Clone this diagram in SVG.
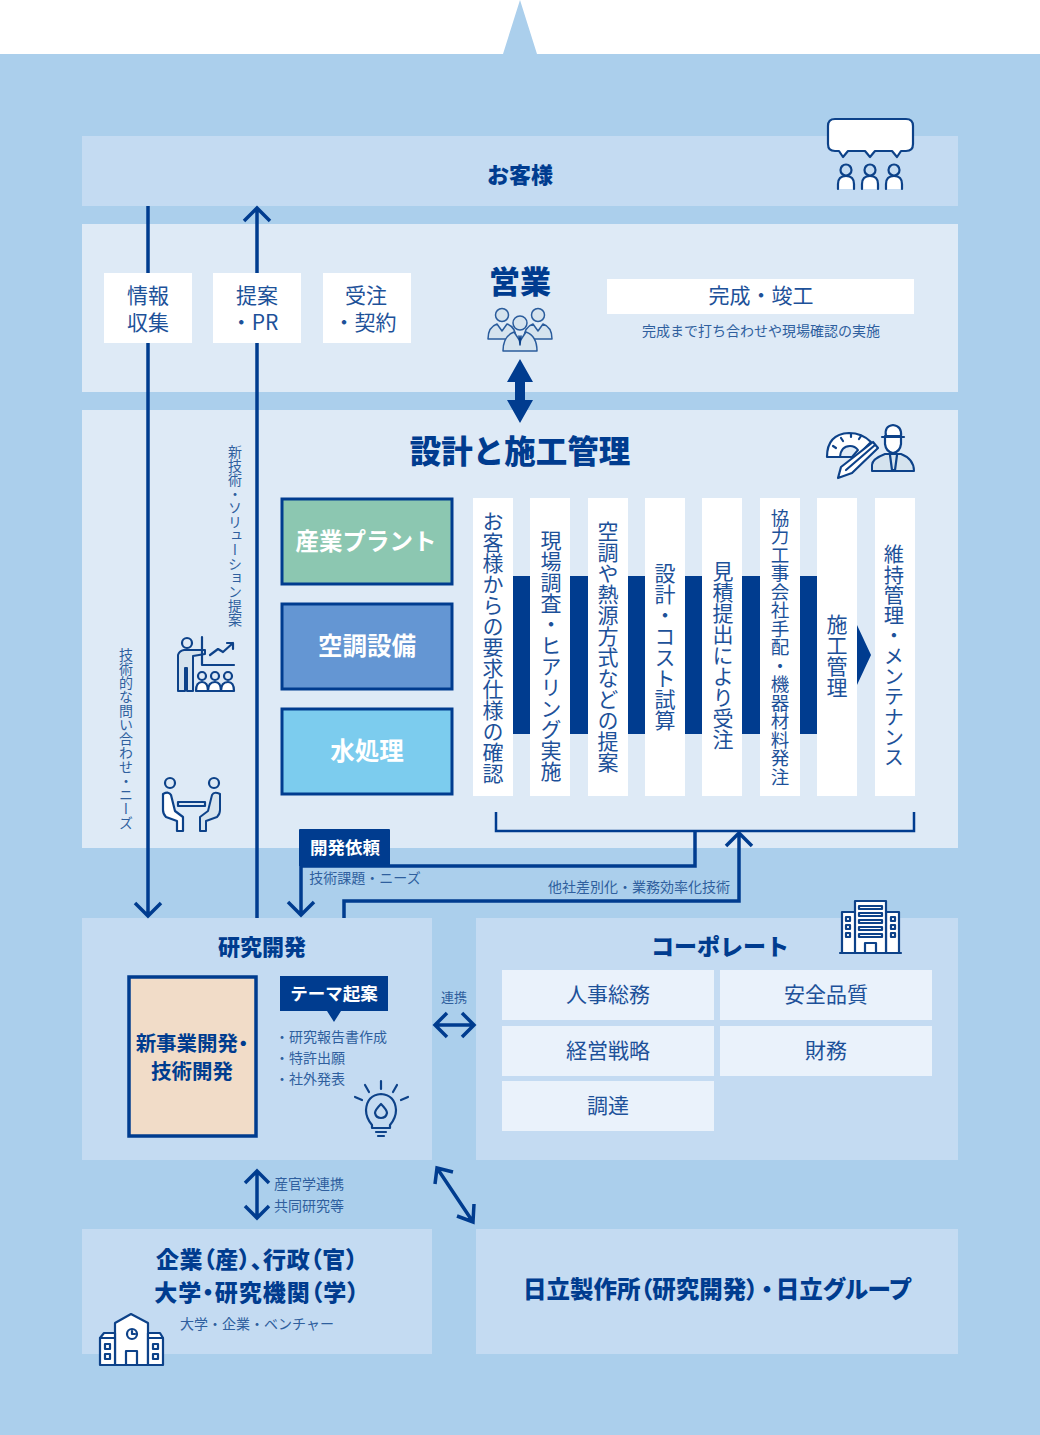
<svg xmlns="http://www.w3.org/2000/svg" width="1040" height="1435" viewBox="0 0 1040 1435">
<style>
text{font-family:"Noto Sans CJK JP","Noto Sans",sans-serif;fill:#003c8f;text-anchor:middle}
.b{font-weight:900}
.sb{font-weight:700}
.pt{font-feature-settings:"palt"}
.s{font-size:14px;fill:#2f5f9e}
.m{font-size:21px;fill:#1d5199}
.wt{fill:#fff}
.v{writing-mode:vertical-rl;font-size:21px;fill:#1d5199}
.vs{writing-mode:vertical-rl;font-size:14px;fill:#2f5f9e}
.p1{fill:#c4dbf2}.p2{fill:#deeaf6}.card{fill:#fff}.cell{fill:#eaf2fb}
.ln{fill:none;stroke:#003c8f;stroke-width:3.5}
.ln2{fill:none;stroke:#003c8f;stroke-width:2.5}
.ic{fill:none;stroke:#0d4289;stroke-width:2.2;stroke-linejoin:round;stroke-linecap:round}
.icw{fill:#fff;stroke:#0d4289;stroke-width:2.2;stroke-linejoin:round;stroke-linecap:round}
.icg{fill:#d5e3ee;stroke:#0d4289;stroke-width:2;stroke-linejoin:round;stroke-linecap:round}
.thin{fill:#d5e3ee;stroke:#2a5c9c;stroke-width:1.5;stroke-linejoin:round}
.bar{fill:#003c8f}
</style>
<rect width="1040" height="1435" fill="#fff"/>
<path d="M0 54H503L520 0L537 54H1040V1435H0Z" fill="#abcfec"/>

<!-- background bands sit under the connector lines -->
<g id="bands">
<rect class="p1" x="82" y="136" width="876" height="70"/>
<rect class="p2" x="82" y="224" width="876" height="168"/>
<rect class="p2" x="82" y="410" width="876" height="438"/>
<rect class="p1" x="82" y="918" width="350" height="242"/>
<rect class="p1" x="476" y="918" width="482" height="242"/>
<rect class="p1" x="82" y="1229" width="350" height="125"/>
<rect class="p1" x="476" y="1229" width="482" height="125"/>
</g>

<g id="connectors">
<path class="ln" d="M148 206V916M135 903L148 916L161 903"/>
<path class="ln" d="M257 918V208M244 221L257 208L270 221"/>
<path d="M520 359L533 382H525V400H533L520 423L507 400H515V382H507Z" fill="#003c8f"/>
<path class="ln2" d="M496 812V831H914V812"/>
<path class="ln" d="M695 831V866H301V915M288 902L301 915L314 902"/>
<path class="ln" d="M344 918V901H739V833M726 846L739 833L752 846"/>
<path class="ln" d="M435 1025H474M447 1013L435 1025L447 1037M462 1013L474 1025L462 1037"/>
<path class="ln" d="M257 1171V1218M245 1183L257 1171L269 1183M245 1206L257 1218L269 1206"/>
<path class="ln" d="M437 1168L473 1222M435 1184L437 1168L453 1172M457 1216L473 1222L474 1204"/>
</g>

<g id="customer">
<text class="b" x="520" y="183" font-size="22">お客様</text>
<path class="icw" d="M835 119H906Q913 119 913 126V144Q913 151 906 151H901L897 157L892 151H875L870 157L865 151H848L843 157L839 151H835Q828 151 828 144V126Q828 119 835 119Z"/>
<g id="customer-people">
<circle class="ic" cx="846" cy="170" r="5.500"/><path class="icw" d="M838 189V184Q838 176 846 176Q854 176 854 184V189"/>
<circle class="ic" cx="870" cy="170" r="5.500"/><path class="icw" d="M862 189V184Q862 176 870 176Q878 176 878 184V189"/>
<circle class="ic" cx="894" cy="170" r="5.500"/><path class="icw" d="M886 189V184Q886 176 894 176Q902 176 902 184V189"/>
</g>
</g>

<g id="sales">
<rect class="card" x="104" y="273" width="88" height="70"/>
<text class="m" x="148" y="303">情報</text><text class="m" x="148" y="330">収集</text>
<rect class="card" x="213" y="273" width="88" height="70"/>
<text class="m" x="257" y="303">提案</text><text class="m" x="254.500" y="330">・PR</text>
<rect class="card" x="323" y="273" width="88" height="70"/>
<text class="m" x="366" y="303">受注</text><text class="m" x="365" y="330">・契約</text>
<text class="b" x="520" y="293" font-size="31">営業</text>
<g id="sales-team">
<circle class="thin" cx="502" cy="315" r="6.500"/><path class="thin" d="M488 339Q488 327 497 324L502 331L507 324Q516 327 516 339Z"/>
<circle class="thin" cx="538" cy="315" r="6.500"/><path class="thin" d="M524 339Q524 327 533 324L538 331L543 324Q552 327 552 339Z"/>
<path class="thin" d="M503 351Q503 336 514 332L520 341L526 332Q537 336 537 351Z"/>
<circle class="thin" cx="520" cy="323" r="7"/>
<path class="ic" style="stroke-width:1.500" d="M519 336L520 345L521 336"/>
</g>
<rect class="card" x="607" y="279" width="307" height="35"/>
<text class="m" x="761" y="303">完成・竣工</text>
<text class="s" x="761" y="336">完成まで打ち合わせや現場確認の実施</text>
</g>

<g id="design">
<text class="b" x="520" y="463" font-size="31.500">設計と施工管理</text>
<g id="design-icon">
<path class="icw" d="M827 457Q827 434 849 433Q862 433 871 442L856 457Z"/>
<path class="icg" style="fill:#deeaf6" d="M840 457Q841 446 850 446Q855 446 858 450L852 457Z"/>
<path class="ic" d="M833 446L836 448M841 438L843 441M851 434V437M861 436L859 439"/>
<path class="icw" d="M838 478L841 467L873 442L878 448L852 473Z"/>
<path class="ic" d="M846 470L875 445"/>
<path class="icg" d="M872 471V465Q872 459 885 454H901Q914 459 914 471Z"/>
<path class="icw" d="M885 436H901V444Q900 452 893 453Q886 452 885 444Z"/>
<path class="icw" d="M886 436Q884 426 893 425Q902 426 901 436Z"/>
<path class="ic" d="M882 437H904"/>
<path class="ic" d="M890 455L892 470H895L897 455"/>
</g>
<g id="meeting-icon">
<circle class="ic" cx="187" cy="643" r="5"/>
<path class="icg" d="M178 691V655Q179 651 184 650L205 650V654L193 656V691H187V668H185V691Z"/>
<path class="ic" d="M202 637V665H234M210 655L218 649L223 652L233 643M227 643H233V649"/>
<circle class="ic" cx="202" cy="676" r="4"/><path class="icw" d="M196 691Q196 682 202 682Q208 682 208 691Z"/>
<circle class="ic" cx="215" cy="676" r="4"/><path class="icw" d="M208 691Q208 682 215 682Q221 682 221 691Z"/>
<circle class="ic" cx="228" cy="676" r="4"/><path class="icw" d="M221 691Q221 682 228 682Q234 682 234 691Z"/>
</g>
<g id="talk-icon">
<circle class="ic" cx="170" cy="783" r="5"/>
<circle class="ic" cx="214" cy="783" r="5"/>
<rect class="ic" x="178" y="802" width="27" height="4"/>
<path class="icw" d="M163 794Q169 791 171 795L175 811L183 817V831H177V821L166 817Q163 814 163 810Z"/>
<path class="icg" d="M220 794Q214 791 212 795L208 811L200 817V831H206V821L217 817Q220 814 220 810Z"/>
</g>
<g id="division-cards">
<rect x="282" y="499" width="170" height="85" fill="#8cc7b1" stroke="#003c8f" stroke-width="3"/>
<text class="sb wt" x="366" y="550" font-size="23.500">産業プラント</text>
<rect x="282" y="604" width="170" height="85" fill="#6496d3" stroke="#003c8f" stroke-width="3"/>
<text class="sb wt" x="367" y="655" font-size="24.500">空調設備</text>
<rect x="282" y="709" width="170" height="85" fill="#7cccee" stroke="#003c8f" stroke-width="3"/>
<text class="sb wt" x="367" y="760" font-size="24.500">水処理</text>
</g>
<g id="flow">
<rect class="bar" x="513" y="576" width="286" height="158"/>
<rect class="bar" x="799" y="576" width="18" height="158"/>
<path class="bar" d="M857 625L871 655L857 685Z"/>
<g class="card">
<rect x="473" y="498" width="40" height="298"/><rect x="530" y="498" width="40" height="298"/>
<rect x="588" y="498" width="40" height="298"/><rect x="645" y="498" width="40" height="298"/>
<rect x="702" y="498" width="40" height="298"/><rect x="760" y="498" width="40" height="298"/>
<rect x="817" y="498" width="40" height="298"/><rect x="875" y="498" width="40" height="298"/>
</g>
<text class="v" x="493" y="647">お客様からの要求仕様の確認</text>
<text class="v" x="551" y="656">現場調査・ヒアリング実施</text>
<text class="v" x="608" y="647">空調や熱源方式などの提案</text>
<text class="v" x="665" y="647">設計・コスト試算</text>
<text class="v" x="723" y="655">見積提出により受注</text>
<text class="v" x="780" y="647" style="font-size:18.500px">協力工事会社手配・機器材料発注</text>
<text class="v" x="837" y="656">施工管理</text>
<text class="v" x="894" y="656" style="font-size:20.300px">維持管理・メンテナンス</text>
</g>
<text class="vs" x="235" y="536">新技術・ソリューション提案</text>
<text class="vs" x="126" y="739">技術的な問い合わせ・ニーズ</text>
</g>

<g id="rnd">
<text class="b" x="262" y="955" font-size="22">研究開発</text>
<rect x="129" y="977" width="127" height="159" fill="#f1dcc8" stroke="#003c8f" stroke-width="3.500"/>
<text class="sb pt" x="192" y="1051" font-size="20.500">新事業開発・</text>
<text class="sb" x="192" y="1079" font-size="20.500">技術開発</text>
<path class="bar" d="M280 976H388V1011H341L334 1022L327 1011H280Z"/>
<text class="sb wt" x="334" y="1000" font-size="17.500">テーマ起案</text>
<text class="s" x="331" y="1042">・研究報告書作成</text>
<text class="s" x="310" y="1063">・特許出願</text>
<text class="s" x="310" y="1084">・社外発表</text>
<g id="bulb-icon">
<path class="ic" d="M381 1081V1089M365 1085L369 1092M397 1085L393 1092M355 1097L362 1100M408 1097L401 1100"/>
<path class="ic" d="M372 1125Q366 1118 366 1110Q367 1095 381 1094Q395 1095 396 1110Q396 1118 390 1125V1128H372Z"/>
<path class="ic" d="M381 1104Q375 1110 375 1113Q376 1118 381 1118Q386 1118 387 1113Q387 1110 381 1104Z"/>
<path class="ic" d="M376 1132H386M378 1136H384"/>
</g>
</g>

<g id="dev-request">
<path class="bar" d="M299 830Q299 829 300 829H389Q390 829 390 830V866H299Z"/>
<text class="sb wt" x="345" y="854" font-size="17.500">開発依頼</text>
<text class="s" x="365" y="883">技術課題・ニーズ</text>
<text class="s" x="639" y="892">他社差別化・業務効率化技術</text>
</g>

<g id="corporate">
<text class="b" x="720" y="955" font-size="23">コーポレート</text>
<g id="building-icon">
<rect class="icw" x="842" y="912" width="14" height="41"/><rect class="icw" x="886" y="912" width="13" height="41"/>
<rect class="icw" x="855" y="901" width="31" height="52"/>
<path class="ic" d="M859 906H882V909H859ZM859 913H882V916H859ZM859 920H882V923H859ZM859 927H882V930H859ZM859 934H882V937H859Z"/>
<path class="ic" d="M846 917H850V921H846ZM846 925H850V929H846ZM846 933H850V937H846ZM891 917H895V921H891ZM891 925H895V929H891ZM891 933H895V937H891Z"/>
<path class="icw" d="M865 953V943H876V953"/><path class="ic" d="M840 953H901"/>
</g>
<rect class="cell" x="502" y="970" width="212" height="50"/><text class="m" x="608" y="1002">人事総務</text>
<rect class="cell" x="720" y="970" width="212" height="50"/><text class="m" x="826" y="1002">安全品質</text>
<rect class="cell" x="502" y="1026" width="212" height="50"/><text class="m" x="608" y="1058">経営戦略</text>
<rect class="cell" x="720" y="1026" width="212" height="50"/><text class="m" x="826" y="1058">財務</text>
<rect class="cell" x="502" y="1081" width="212" height="50"/><text class="m" x="608" y="1113">調達</text>
</g>

<g id="link-labels">
<text class="s" x="309" y="1189">産官学連携</text>
<text class="s" x="309" y="1211">共同研究等</text>
<text class="s" x="454" y="1002" style="font-size:13px">連携</text>
</g>

<g id="partners">
<text class="b pt" x="257" y="1268" font-size="23" letter-spacing="0.600">企業（産）、行政（官）</text>
<text class="b pt" x="257" y="1301" font-size="23" letter-spacing="1">大学・研究機関（学）</text>
<text class="s" x="257" y="1329">大学・企業・ベンチャー</text>
<g id="school-icon">
<path class="icw" d="M115 1365V1323L131 1314L148 1323V1365Z"/>
<path class="icw" d="M100 1365V1338L104 1333H115V1365ZM148 1365V1333H160L163 1338V1365Z"/>
<path class="ic" d="M100 1338H115M148 1338H163"/>
<circle class="ic" cx="132" cy="1334" r="5"/><path class="ic" d="M132 1331V1334H135"/>
<path class="ic" d="M126 1365V1351H137V1365"/>
<path class="ic" d="M105 1344H110V1349H105ZM105 1354H110V1359H105ZM153 1344H158V1349H153ZM153 1354H158V1359H153Z"/>
</g>
</g>

<g id="hitachi">
<text class="b pt" x="717" y="1298" font-size="23.500">日立製作所（研究開発）<tspan dx="3">・</tspan><tspan dx="3">日立グループ</tspan></text>
</g>
</svg>
